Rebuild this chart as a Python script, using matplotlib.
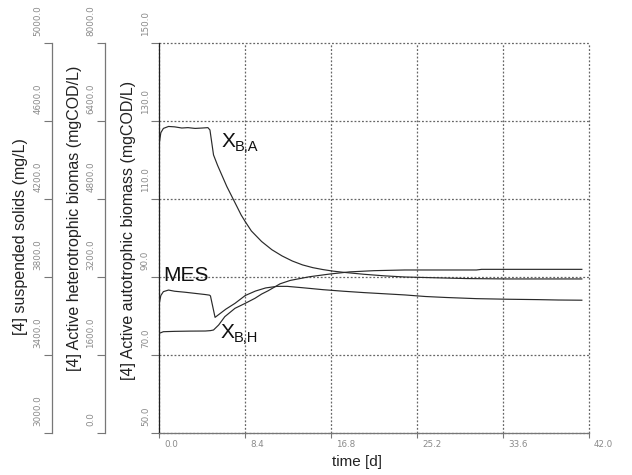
import matplotlib
matplotlib.use("Agg")
import matplotlib.pyplot as plt
import matplotlib.transforms as mtransforms

plt.rcParams['font.family'] = ['Liberation Sans', 'DejaVu Sans']

# time axis
time_ticks = [0.0, 8.4, 16.8, 25.2, 33.6, 42.0]
time_labels = ['0.0', '8.4', '16.8', '25.2', '33.6', '42.0']

# autotrophic biomass axis (main)
auto_ticks = [50, 70, 90, 110, 130, 150]
auto_labels = ['50.0', '70.0', '90.0', '110.0', '130.0', '150.0']
# heterotrophic biomass axis
het_ticks = [0, 1600, 3200, 4800, 6400, 8000]
het_labels = ['0.0', '1600.0', '3200.0', '4800.0', '6400.0', '8000.0']
# suspended solids axis
ss_ticks = [3000, 3400, 3800, 4200, 4600, 5000]
ss_labels = ['3000.0', '3400.0', '3800.0', '4200.0', '4600.0', '5000.0']

# X_B,A  [mgCOD/L]
t_xba = [0.0, 0.15, 0.4, 0.9, 1.5, 2.2, 2.8, 3.5, 4.2, 4.75, 4.95, 5.3, 5.7,
         6.1, 6.6, 7.1, 7.6, 8.0, 8.4, 9.0, 10.0, 11.0, 12.0, 13.0, 14.0,
         15.0, 16.0, 17.0, 18.0, 20.0, 22.0, 24.0, 27.0, 30.0, 34.0, 38.0, 41.3]
xba = [124.3, 127.0, 128.1, 128.6, 128.5, 128.2, 128.3, 128.1, 128.2, 128.3,
       127.7, 121.3, 118.6, 116.2, 113.2, 110.6, 108.0, 105.9, 104.2, 101.8,
       99.1, 97.0, 95.4, 94.1, 93.1, 92.4, 91.9, 91.5, 91.2, 90.7, 90.3, 90.0,
       89.8, 89.6, 89.5, 89.5, 89.5]

# MES  [mg/L]
t_mes = [0.0, 0.15, 0.4, 0.9, 1.5, 2.5, 3.5, 4.5, 4.9, 5.0, 5.45, 6.0, 6.5,
         7.4, 8.4, 9.4, 10.4, 11.5, 12.5, 14.0, 16.0, 18.0, 20.0, 22.0, 24.0,
         26.0, 28.0, 31.0, 34.0, 37.0, 39.0, 41.3]
mes = [3665, 3705, 3725, 3733, 3727, 3722, 3716, 3710, 3707, 3703, 3593, 3615,
       3635, 3665, 3705, 3728, 3744, 3752, 3752, 3745, 3735, 3727, 3720, 3714,
       3708, 3700, 3695, 3689, 3686, 3684, 3682, 3681]

# X_B,H  [mgCOD/L]
t_xbh = [0.0, 0.4, 1.5, 3.0, 4.5, 5.0, 5.3, 5.8, 6.4, 7.4, 8.4, 9.35, 10.0,
         10.65, 11.8, 12.8, 14.7, 16.7, 18.6, 21.0, 24.0, 31.0, 31.5, 41.3]
xbh = [2045, 2078, 2085, 2090, 2092, 2100, 2113, 2215, 2386, 2558, 2660, 2763,
       2850, 2919, 3060, 3130, 3206, 3262, 3305, 3330, 3344, 3344, 3357, 3357]

W, H = 632, 475
L, R, T, B = 159.3, 589.0, 43.0, 433.0

fig = plt.figure(figsize=(W / 100, H / 100), dpi=100)
ax = fig.add_axes([L / W, 1 - B / H, (R - L) / W, (B - T) / H])
ax_ss = ax.twinx()
ax_het = ax.twinx()

tick_grey = '#8a8a8a'
px = lambda dx, dy: mtransforms.ScaledTranslation(dx / 100, dy / 100, fig.dpi_scale_trans)


def style_y(a, ticks, labels, spine_col):
    a.set_yticks(ticks)
    a.set_yticklabels(labels, rotation=90, va='bottom', ha='center',
                      fontsize=6.3, color=tick_grey, family='DejaVu Sans')
    a.tick_params(axis='y', direction='out', length=5.8, width=0.8,
                  color='#777777', pad=4.3)
    a.spines['left'].set_color(spine_col)
    a.spines['left'].set_linewidth(0.9)
    for lbl in a.get_yticklabels():
        lbl.set_transform(lbl.get_transform() + px(0, 7))


for a, pos in [(ax_ss, (52 - L) / (R - L)), (ax_het, (105 - L) / (R - L))]:
    for s in ['top', 'right', 'bottom']:
        a.spines[s].set_visible(False)
    a.spines['left'].set_visible(True)
    a.spines['left'].set_position(('axes', pos))
    a.yaxis.set_ticks_position('left')
    a.yaxis.set_label_position('left')

ax.spines['top'].set_visible(False)
ax.spines['right'].set_visible(False)
ax.spines['bottom'].set_color('#777777')
ax.spines['bottom'].set_linewidth(0.9)

ax.set_xlim(0, 42)
ax.set_ylim(50, 150)
ax_het.set_ylim(0, 8000)
ax_ss.set_ylim(3000, 5000)

style_y(ax, auto_ticks, auto_labels, '#222222')
style_y(ax_het, het_ticks, het_labels, '#777777')
style_y(ax_ss, ss_ticks, ss_labels, '#777777')

ax.set_xticks(time_ticks)
ax.set_xticklabels(time_labels, ha='left', fontsize=6.3, color=tick_grey,
                   family='DejaVu Sans')
ax.tick_params(axis='x', direction='out', length=3.6, width=0.8,
               color='#777777', pad=1.5)
for lbl in ax.get_xticklabels():
    lbl.set_transform(lbl.get_transform() + px(5, 0))

ax.grid(True, color='#666666', linestyle=(0, (1.5, 1.5)), linewidth=0.9)
for gl in ax.get_xgridlines() + ax.get_ygridlines():
    gl.set_clip_on(False)

line_kw = dict(color='#2a2a2a', linewidth=0.85)
ax.plot(t_xba, xba, **line_kw)
ax_ss.plot(t_mes, mes, **line_kw)
ax_het.plot(t_xbh, xbh, **line_kw)

lab_kw = dict(fontsize=11.5, color='#222222')
ax.set_ylabel('[4] Active autotrophic biomass (mgCOD/L)', **lab_kw)
ax_het.set_ylabel('[4] Active heterotrophic biomas (mgCOD/L)', **lab_kw)
ax_ss.set_ylabel('[4] suspended solids (mg/L)', **lab_kw)
ax.yaxis.set_label_coords((136 - L) / (R - L), (B - 230) / (B - T))
ax_het.yaxis.set_label_coords((82 - L) / (R - L), (B - 218) / (B - T))
ax_ss.yaxis.set_label_coords((28 - L) / (R - L), (B - 237) / (B - T))
ax.set_xlabel('time [d]', fontsize=11, color='#222222')
ax.xaxis.set_label_coords((357 - L) / (R - L), (B - 455) / (B - T))

ann_kw = dict(color='#111111', va='baseline', ha='left')
ax.text(6.05, 123.4, 'X', fontsize=15, **ann_kw)
ax.text(6.05, 123.4, 'B,A', fontsize=10.5,
        transform=ax.transData + px(14, -4), **ann_kw)
ax.text(0.35, 88.9, 'MES', fontsize=15, **ann_kw)
ax.text(5.95, 74.4, 'X', fontsize=15, **ann_kw)
ax.text(5.95, 74.4, 'B,H', fontsize=10.5,
        transform=ax.transData + px(14, -4), **ann_kw)

fig.savefig('out.png', dpi=100)
